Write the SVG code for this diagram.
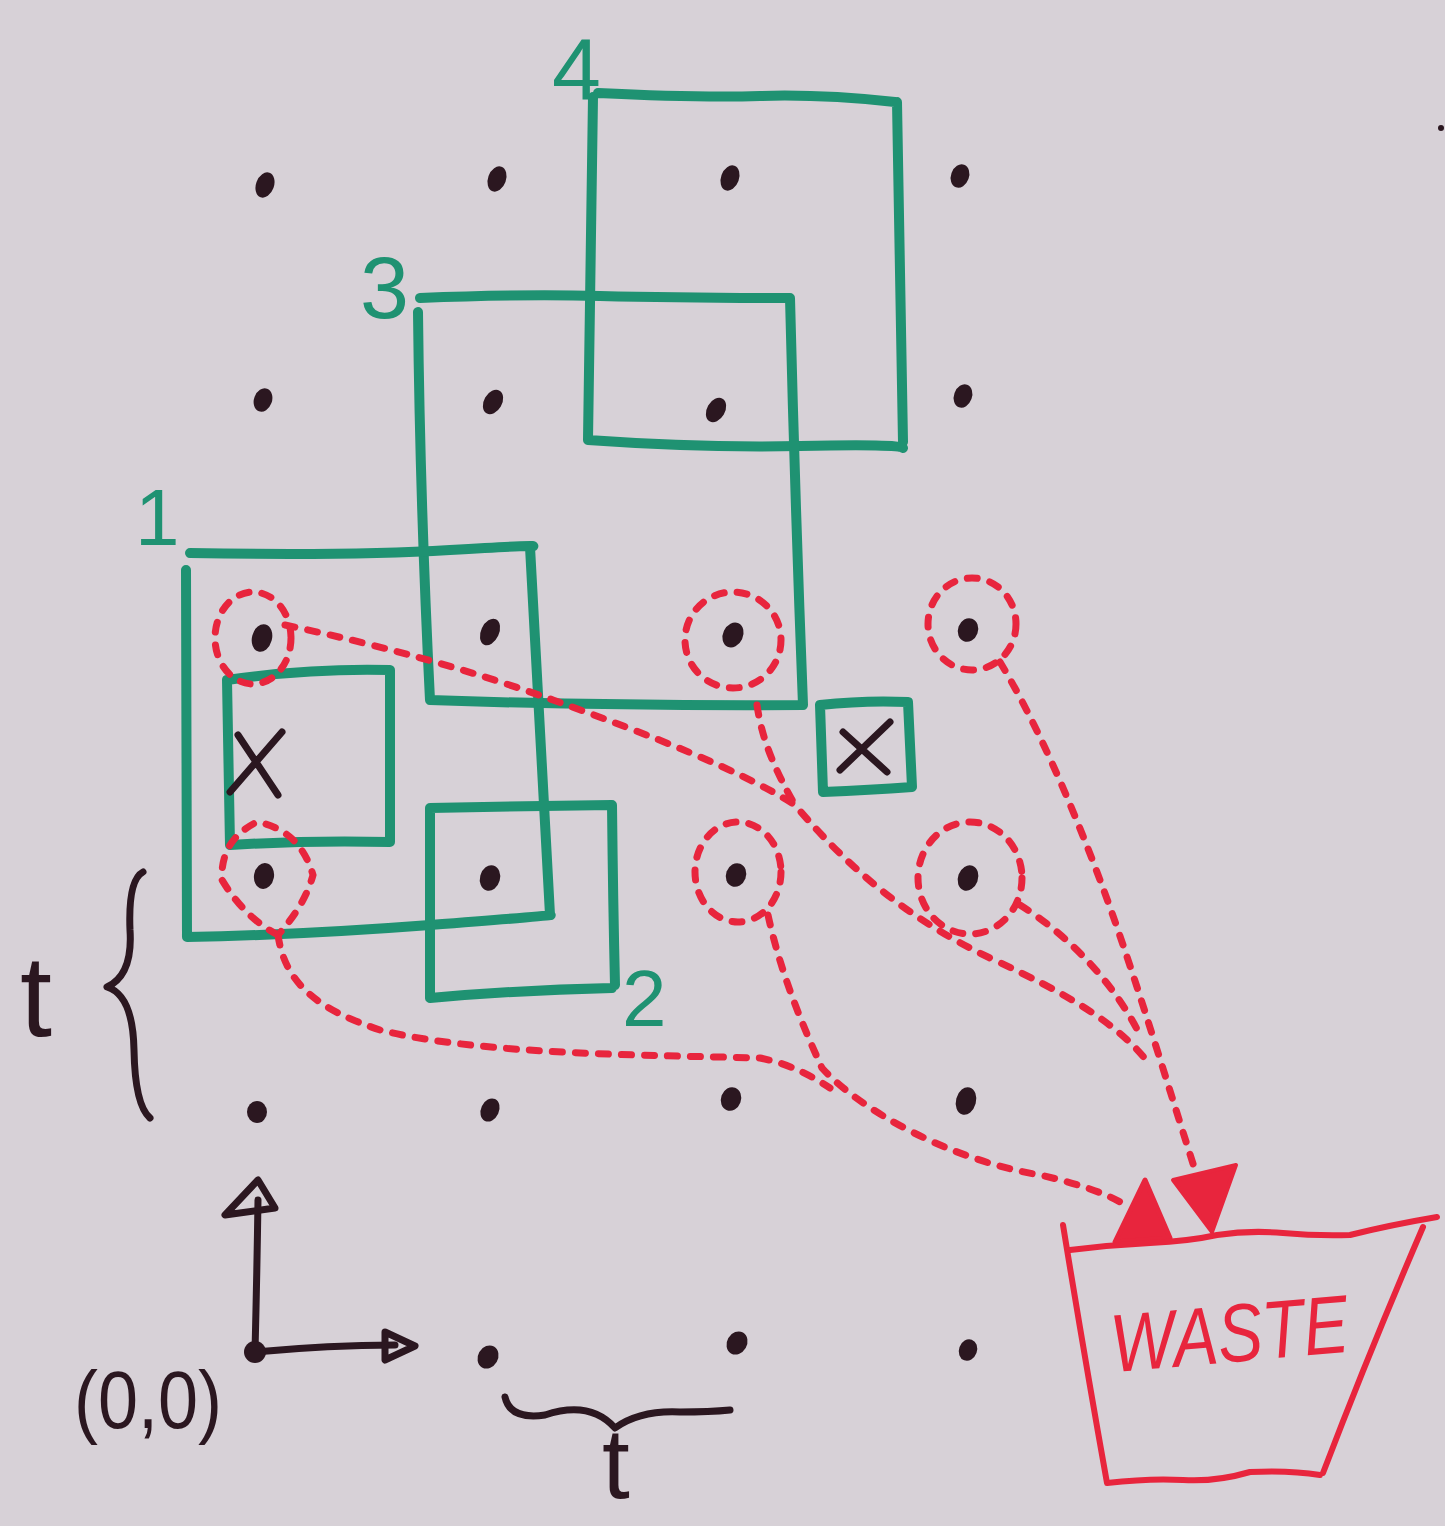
<svg xmlns="http://www.w3.org/2000/svg" width="1445" height="1526" viewBox="0 0 1445 1526">
<style>
.g{fill:none;stroke:#1f9272;stroke-width:10;stroke-linecap:round;stroke-linejoin:round}
.r{fill:none;stroke:#e8253d;stroke-width:7;stroke-linecap:round;stroke-dasharray:10 13}
.rs{fill:none;stroke:#e8253d;stroke-width:6;stroke-linecap:round;stroke-linejoin:round}
.k{fill:none;stroke:#2b1720;stroke-width:7;stroke-linecap:round;stroke-linejoin:round}
.dot{fill:#2b1720}
.gt{fill:#1f9272;font-family:"Liberation Sans",Arial,sans-serif}
.kt{fill:#2b1720;font-family:"Liberation Sans",Arial,sans-serif}
.rt{fill:#e8253d;font-family:"Liberation Sans",Arial,sans-serif}
</style>
<rect width="1445" height="1526" fill="#d7d1d7"/>

<g id="grid">
<ellipse class="dot" cx="265" cy="185" rx="9" ry="13" transform="rotate(20 265 185)"/>
<ellipse class="dot" cx="497" cy="179" rx="9" ry="13" transform="rotate(20 497 179)"/>
<ellipse class="dot" cx="730" cy="178" rx="9" ry="13" transform="rotate(20 730 178)"/>
<ellipse class="dot" cx="960" cy="176" rx="9" ry="12" transform="rotate(20 960 176)"/>
<ellipse class="dot" cx="263" cy="400" rx="9" ry="12" transform="rotate(20 263 400)"/>
<ellipse class="dot" cx="493" cy="402" rx="9" ry="13" transform="rotate(30 493 402)"/>
<ellipse class="dot" cx="716" cy="410" rx="9" ry="13" transform="rotate(30 716 410)"/>
<ellipse class="dot" cx="963" cy="396" rx="9" ry="12" transform="rotate(20 963 396)"/>
<ellipse class="dot" cx="262" cy="638" rx="10" ry="14" transform="rotate(15 262 638)"/>
<ellipse class="dot" cx="490" cy="632" rx="9" ry="14" transform="rotate(25 490 632)"/>
<ellipse class="dot" cx="733" cy="635" rx="10" ry="13" transform="rotate(25 733 635)"/>
<ellipse class="dot" cx="968" cy="630" rx="10" ry="12" transform="rotate(20 968 630)"/>
<ellipse class="dot" cx="264" cy="876" rx="10" ry="13" transform="rotate(10 264 876)"/>
<ellipse class="dot" cx="490" cy="878" rx="10" ry="13" transform="rotate(15 490 878)"/>
<ellipse class="dot" cx="736" cy="875" rx="10" ry="12" transform="rotate(20 736 875)"/>
<ellipse class="dot" cx="968" cy="878" rx="10" ry="13" transform="rotate(20 968 878)"/>
<ellipse class="dot" cx="257" cy="1112" rx="10" ry="11"/>
<ellipse class="dot" cx="490" cy="1110" rx="9" ry="12" transform="rotate(25 490 1110)"/>
<ellipse class="dot" cx="731" cy="1099" rx="10" ry="12" transform="rotate(20 731 1099)"/>
<ellipse class="dot" cx="966" cy="1101" rx="10" ry="14" transform="rotate(15 966 1101)"/>
<ellipse class="dot" cx="488" cy="1357" rx="10" ry="12" transform="rotate(30 488 1357)"/>
<ellipse class="dot" cx="737" cy="1343" rx="10" ry="12" transform="rotate(30 737 1343)"/>
<ellipse class="dot" cx="968" cy="1350" rx="9" ry="11" transform="rotate(20 968 1350)"/>
<circle class="dot" cx="1441" cy="128" r="3"/>
</g>

<g id="square-4">
<path class="g" d="M598,93 Q700,98 760,96 T895,102 M897,102 Q900,270 903,442 M588,440 Q700,448 800,446 T903,448 M593,97 Q590,270 588,440"/>
<text class="gt" x="552" y="100" font-size="88">4</text>
</g>
<g id="square-3">
<path class="g" d="M420,298 Q520,294 600,296 T790,298 M790,298 Q795,500 803,705 M418,312 Q420,500 430,700 M430,700 Q600,706 803,705"/>
<text class="gt" x="360" y="318" font-size="88">3</text>
</g>
<g id="square-1">
<path class="g" d="M190,553 Q350,556 450,550 T530,547 M530,547 Q540,730 550,915 M186,570 Q186,750 187,937 M187,937 Q300,935 430,925 T550,915"/>
<text class="gt" x="135" y="545" font-size="80">1</text>
</g>
<g id="square-2">
<path class="g" d="M430,808 Q520,806 612,805 M612,805 Q613,900 615,985 M430,808 L430,998 M430,998 Q520,990 612,988"/>
<text class="gt" x="622" y="1026" font-size="80">2</text>
</g>
<g id="blocked-left">
<path class="g" d="M227,680 Q310,668 390,670 L390,842 Q310,840 230,845 Z"/>
<path class="k" d="M230,792 L282,732 M238,735 L278,795"/>
</g>
<g id="blocked-right">
<path class="g" d="M820,705 Q865,700 908,702 L912,787 Q870,790 823,792 Z"/>
<path class="k" d="M840,770 L890,722 M843,732 L887,772"/>
</g>

<g id="red-circles">
<ellipse class="r" cx="253" cy="638" rx="38" ry="46"/>
<ellipse class="r" cx="733" cy="640" rx="48" ry="48"/>
<ellipse class="r" cx="972" cy="624" rx="44" ry="46"/>
<ellipse class="r" cx="738" cy="872" rx="43" ry="50"/>
<ellipse class="r" cx="970" cy="878" rx="52" ry="56"/>
<path class="r" d="M278,935 Q245,918 222,880 Q220,840 257,822 Q300,830 313,875 Q305,905 278,935"/>
</g>

<g id="connectors">
<path class="r" d="M285,625 C380,645 470,670 553,700 C650,735 740,770 795,805 C850,870 910,920 990,958 C1070,995 1120,1025 1150,1065"/>
<path class="r" d="M757,705 C762,740 775,770 795,805"/>
<path class="r" d="M1000,662 C1035,720 1070,800 1100,880 C1130,960 1160,1060 1195,1170"/>
<path class="r" d="M1020,905 C1060,930 1110,975 1140,1035"/>
<path class="r" d="M768,915 C780,970 800,1020 822,1068 C860,1110 950,1160 1040,1175 C1080,1184 1110,1195 1125,1205"/>
<path class="r" d="M278,935 C285,985 320,1010 380,1030 C480,1055 650,1055 760,1058 C790,1064 810,1075 830,1088"/>
<polygon points="1145,1180 1170,1238 1115,1242" fill="#e8253d" stroke="#e8253d" stroke-width="5" stroke-linejoin="round"/>
<polygon points="1173,1180 1236,1165 1212,1232" fill="#e8253d" stroke="#e8253d" stroke-width="4" stroke-linejoin="round"/>
</g>

<g id="waste">
<path class="rs" d="M1063,1225 Q1085,1360 1107,1483 M1070,1250 Q1110,1245 1150,1243 T1217,1235 Q1250,1230 1283,1233 T1350,1235 Q1390,1225 1437,1217 M1423,1227 Q1370,1350 1323,1473 M1107,1483 Q1150,1478 1183,1480 T1250,1472 Q1290,1470 1320,1475"/>
<text class="rt" x="1110" y="1362" font-size="82" font-style="italic" textLength="238" lengthAdjust="spacingAndGlyphs" transform="rotate(-5 1230 1330)">WASTE</text>
</g>

<g id="axes">
<path class="k" d="M255,1352 Q257,1270 258,1200 M255,1352 Q330,1345 395,1345"/>
<path class="k" d="M258,1180 L225,1215 L275,1208 Z"/>
<path class="k" d="M385,1332 L415,1346 L385,1360 Z"/>
<circle class="dot" cx="255" cy="1352" r="11"/>
<text class="kt" x="74" y="1428" font-size="82" textLength="148" lengthAdjust="spacingAndGlyphs">(0,0)</text>
</g>

<g id="dimension-t">
<path class="k" d="M143,872 Q128,880 130,930 Q133,975 107,987 Q133,995 134,1050 Q135,1105 150,1118"/>
<text class="kt" x="20" y="1036" font-size="115">t</text>
<path class="k" d="M505,1397 Q510,1420 545,1415 Q590,1400 615,1428 Q640,1410 680,1412 Q710,1412 730,1410"/>
<text class="kt" x="602" y="1498" font-size="100">t</text>
</g>
</svg>
